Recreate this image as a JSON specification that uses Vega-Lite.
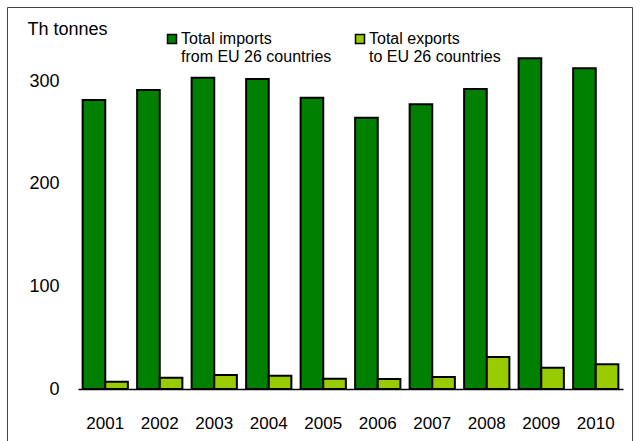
{
  "$schema": "https://vega.github.io/schema/vega-lite/v6.json",
  "width": 625,
  "height": 440,
  "autosize": "none",
  "padding": {"left": 7, "top": 7, "right": 8, "bottom": 0},
  "background": "white",
  "config": {
    "view": {"stroke": "#444444", "strokeWidth": 1},
    "font": "Liberation Sans"
  },
  "data": {
    "values": [
      {"year": "2001", "series": "imports", "value": 281.5},
      {"year": "2002", "series": "imports", "value": 291.2},
      {"year": "2003", "series": "imports", "value": 303.2},
      {"year": "2004", "series": "imports", "value": 301.9},
      {"year": "2005", "series": "imports", "value": 283.7},
      {"year": "2006", "series": "imports", "value": 264.2},
      {"year": "2007", "series": "imports", "value": 277.3},
      {"year": "2008", "series": "imports", "value": 292.2},
      {"year": "2009", "series": "imports", "value": 322.1},
      {"year": "2010", "series": "imports", "value": 312.4},
      {"year": "2001", "series": "exports", "value": 7.1},
      {"year": "2002", "series": "exports", "value": 11},
      {"year": "2003", "series": "exports", "value": 13.6},
      {"year": "2004", "series": "exports", "value": 13},
      {"year": "2005", "series": "exports", "value": 10},
      {"year": "2006", "series": "exports", "value": 9.7},
      {"year": "2007", "series": "exports", "value": 11.7},
      {"year": "2008", "series": "exports", "value": 31.2},
      {"year": "2009", "series": "exports", "value": 20.8},
      {"year": "2010", "series": "exports", "value": 24}
    ]
  },
  "mark": {"type": "bar", "stroke": "black", "strokeWidth": 2},
  "encoding": {
    "x": {
      "field": "year",
      "type": "ordinal",
      "scale": {"range": [71, 616], "paddingInner": 0.17, "paddingOuter": 0.085},
      "axis": {
        "title": null,
        "orient": "bottom",
        "offset": -58,
        "labelAngle": 0,
        "ticks": false,
        "domainColor": "black",
        "domainWidth": 1.5,
        "labelPadding": 26,
        "labelFontSize": 17,
        "labelColor": "black"
      }
    },
    "xOffset": {
      "field": "series",
      "type": "nominal",
      "sort": ["imports", "exports"],
      "scale": {"paddingInner": 0, "paddingOuter": 0}
    },
    "y": {
      "field": "value",
      "type": "quantitative",
      "scale": {"domain": [0, 300], "range": [382, 74], "nice": false},
      "axis": {
        "title": "Th tonnes",
        "titleAngle": 0,
        "titleAlign": "left",
        "titleBaseline": "alphabetic",
        "titleX": -51,
        "titleY": 27,
        "titleFontSize": 18,
        "titleFontWeight": "normal",
        "titleColor": "black",
        "offset": -71,
        "values": [0, 100, 200, 300],
        "domain": false,
        "ticks": false,
        "grid": false,
        "labelPadding": 19,
        "labelFontSize": 18,
        "labelColor": "black"
      }
    },
    "color": {
      "field": "series",
      "type": "nominal",
      "sort": ["imports", "exports"],
      "scale": {"domain": ["imports", "exports"], "range": ["#008000", "#99cc00"]},
      "legend": {
        "title": null,
        "orient": "none",
        "direction": "horizontal",
        "legendX": 157,
        "legendY": 24,
        "symbolType": "square",
        "symbolSize": 81,
        "symbolStrokeColor": "black",
        "symbolStrokeWidth": 1.5,
        "symbolOpacity": 1,
        "labelFontSize": 16,
        "labelColor": "black",
        "labelOffset": 1,
        "labelLimit": 300,
        "columnPadding": 20,
        "labelExpr": "datum.value == 'imports' ? ['Total imports', 'from EU 26 countries'] : ['Total exports', 'to EU 26 countries']"
      }
    }
  }
}
